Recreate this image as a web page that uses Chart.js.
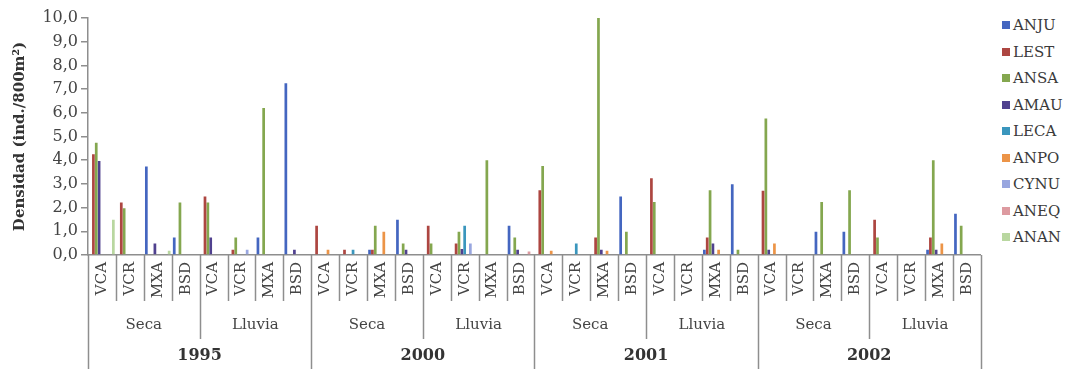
<!DOCTYPE html>
<html>
<head>
<meta charset="utf-8">
<script src="https://cdn.jsdelivr.net/npm/chart.js@4/dist/chart.umd.min.js"></script>
<style>
  html, body { margin: 0; padding: 0; background: #ffffff; }
  #wrap { position: relative; width: 1088px; height: 369px; overflow: hidden; }
  #chart { position: absolute; left: 0; top: 0; }
  #legend { position: absolute; left: 1002px; top: 12px; font-family: 'DejaVu Serif', serif; font-size: 15px; color: #3a3a3a; }
  #legend .item { height: 26.5px; display: flex; align-items: center; white-space: nowrap; }
  #legend .sw { width: 8px; height: 8px; margin-right: 3px; flex: none; }
</style>
</head>
<body>
<div id="wrap">
  <canvas id="chart" width="992" height="369"></canvas>
  <div id="legend"></div>
</div>
<script>
// Grouping levels of the category axis
const years = ['1995', '2000', '2001', '2002'];
const seasons = ['Seca', 'Lluvia'];
const sites = ['VCA', 'VCR', 'MXA', 'BSD'];
const yTickLabels = ['0,0', '1,0', '2,0', '3,0', '4,0', '5,0', '6,0', '7,0', '8,0', '9,0', '10,0'];

// Density per species (ind./800 m²), one value per year / season / site
const seriesNames = ['ANJU', 'LEST', 'ANSA', 'AMAU', 'LECA', 'ANPO', 'CYNU', 'ANEQ', 'ANAN'];
const ANJU = [0, 0, 3.73, 0.74, 0, 0, 0.74, 7.25, 0, 0, 0.22, 1.49, 0, 0, 0, 1.23, 0, 0, 0, 2.47, 0, 0, 0.22, 2.99, 0, 0, 0.98, 0.98, 0, 0, 0.22, 1.74];
const LEST = [4.25, 2.22, 0, 0, 2.47, 0.22, 0, 0, 1.23, 0.22, 0.22, 0, 1.23, 0.49, 0, 0, 2.73, 0, 0.74, 0, 3.24, 0, 0.74, 0, 2.71, 0, 0, 0, 1.49, 0, 0.74, 0];
const ANSA = [4.74, 1.97, 0, 2.22, 2.22, 0.74, 6.2, 0, 0, 0, 1.23, 0.49, 0.49, 0.98, 4.0, 0.74, 3.76, 0, 10.0, 0.98, 2.24, 0, 2.73, 0.22, 5.76, 0, 2.24, 2.73, 0.74, 0, 4.0, 1.23];
const AMAU = [3.97, 0, 0.49, 0, 0.74, 0, 0, 0.22, 0, 0, 0, 0.22, 0, 0.25, 0, 0.22, 0, 0, 0.22, 0, 0, 0, 0.49, 0, 0.22, 0, 0, 0, 0, 0, 0.22, 0];
const LECA = [0, 0, 0, 0, 0, 0, 0, 0, 0, 0.22, 0, 0, 0, 1.23, 0, 0, 0, 0.49, 0, 0, 0, 0, 0, 0, 0, 0, 0, 0, 0, 0, 0, 0];
const ANPO = [0, 0, 0, 0, 0, 0, 0, 0, 0.22, 0, 0.98, 0, 0, 0, 0, 0, 0.18, 0, 0.18, 0, 0, 0, 0.22, 0, 0.49, 0, 0, 0, 0, 0, 0.49, 0];
const CYNU = [0, 0, 0, 0, 0, 0.22, 0, 0, 0, 0, 0, 0, 0, 0.49, 0, 0, 0, 0, 0, 0, 0, 0, 0, 0, 0, 0, 0, 0, 0, 0, 0, 0];
const ANEQ = [0, 0, 0, 0, 0, 0, 0, 0, 0, 0, 0, 0, 0, 0, 0, 0.15, 0, 0, 0, 0, 0, 0, 0, 0, 0, 0, 0, 0, 0, 0, 0, 0];
const ANAN = [1.49, 0, 0.18, 0, 0, 0, 0, 0, 0, 0, 0, 0, 0, 0, 0, 0, 0, 0, 0, 0, 0, 0, 0, 0, 0, 0, 0, 0, 0, 0, 0, 0];

const seriesValues = [ANJU, LEST, ANSA, AMAU, LECA, ANPO, CYNU, ANEQ, ANAN];
const seriesColors = ['#4466c0', '#ad4641', '#84a74f', '#50418f', '#3a96bd', '#ec9447', '#98a6df', '#dd9aa0', '#b9d7a0'];

const FONT = "'DejaVu Serif', serif";
const AXIS_GREY = '#8e8e8e';

// One category per year / season / site combination
const categories = [];
years.forEach(() => seasons.forEach(() => sites.forEach(s => categories.push(s))));

const perSeason = sites.length;
const perYear = sites.length * seasons.length;

// Separators and the season / year rows under the site labels
const groupAxisPlugin = {
  id: 'groupAxis',
  afterDraw(chart) {
    const xs = chart.scales.x;
    const ctx = chart.ctx;
    const step = xs.getPixelForValue(1) - xs.getPixelForValue(0);
    const axisY = xs.top;
    ctx.save();
    ctx.strokeStyle = AXIS_GREY;
    ctx.lineWidth = 1.5;
    for (let i = 0; i <= categories.length; i++) {
      const px = xs.getPixelForValue(0) - step / 2 + i * step;
      let bottom = axisY + 46;
      if (i % perYear === 0) bottom = chart.height;
      else if (i % perSeason === 0) bottom = axisY + 84;
      ctx.beginPath();
      ctx.moveTo(Math.round(px) + 0.5, axisY);
      ctx.lineTo(Math.round(px) + 0.5, bottom);
      ctx.stroke();
    }
    ctx.textAlign = 'center';
    ctx.textBaseline = 'middle';
    ctx.fillStyle = '#444';
    ctx.font = '15px ' + FONT;
    for (let g = 0; g < years.length * seasons.length; g++) {
      const a = xs.getPixelForValue(g * perSeason);
      const b = xs.getPixelForValue(g * perSeason + perSeason - 1);
      ctx.fillText(seasons[g % seasons.length], (a + b) / 2, axisY + 70);
    }
    ctx.font = 'bold 16px ' + FONT;
    ctx.fillStyle = '#333';
    for (let y = 0; y < years.length; y++) {
      const a = xs.getPixelForValue(y * perYear);
      const b = xs.getPixelForValue(y * perYear + perYear - 1);
      ctx.fillText(years[y], (a + b) / 2, axisY + 101);
    }
    ctx.restore();
  }
};

const chart = new Chart(document.getElementById('chart'), {
  type: 'bar',
  data: {
    labels: categories,
    datasets: seriesNames.map((name, i) => ({
      label: name,
      data: seriesValues[i],
      backgroundColor: seriesColors[i],
      borderWidth: 0,
      categoryPercentage: 0.92,
      barPercentage: 0.95
    }))
  },
  options: {
    responsive: false,
    animation: false,
    devicePixelRatio: 1,
    layout: { padding: { top: 18, right: 8, left: 0, bottom: 0 } },
    plugins: {
      legend: { display: false },
      tooltip: { enabled: false }
    },
    scales: {
      x: {
        type: 'category',
        ticks: {
          autoSkip: false,
          minRotation: 90,
          maxRotation: 90,
          padding: 7,
          color: '#444',
          font: { family: FONT, size: 15 }
        },
        grid: { display: false, drawTicks: false },
        border: { display: true, color: AXIS_GREY, width: 1.5 },
        afterFit(scale) { scale.height = 114; }
      },
      y: {
        min: 0,
        max: 10,
        ticks: {
          stepSize: 1,
          padding: 3,
          color: '#444',
          font: { family: FONT, size: 16 },
          callback: (value, index) => yTickLabels[index]
        },
        grid: { drawOnChartArea: false, drawTicks: true, tickLength: 7, color: AXIS_GREY, lineWidth: 1.5 },
        border: { display: true, color: AXIS_GREY, width: 1.5 },
        title: {
          display: true,
          text: 'Densidad (ind./800m²)',
          color: '#333',
          font: { family: FONT, size: 15, weight: 'bold' },
          padding: { top: 11, bottom: 0 }
        },
        afterFit(scale) { scale.width = 88; }
      }
    }
  },
  plugins: [groupAxisPlugin]
});

// Legend built from the chart's own datasets
const legend = document.getElementById('legend');
chart.data.datasets.forEach(ds => {
  const row = document.createElement('div');
  row.className = 'item';
  const sw = document.createElement('span');
  sw.className = 'sw';
  sw.style.background = ds.backgroundColor;
  const label = document.createElement('span');
  label.textContent = ds.label;
  row.appendChild(sw);
  row.appendChild(label);
  legend.appendChild(row);
});
</script>
</body>
</html>
